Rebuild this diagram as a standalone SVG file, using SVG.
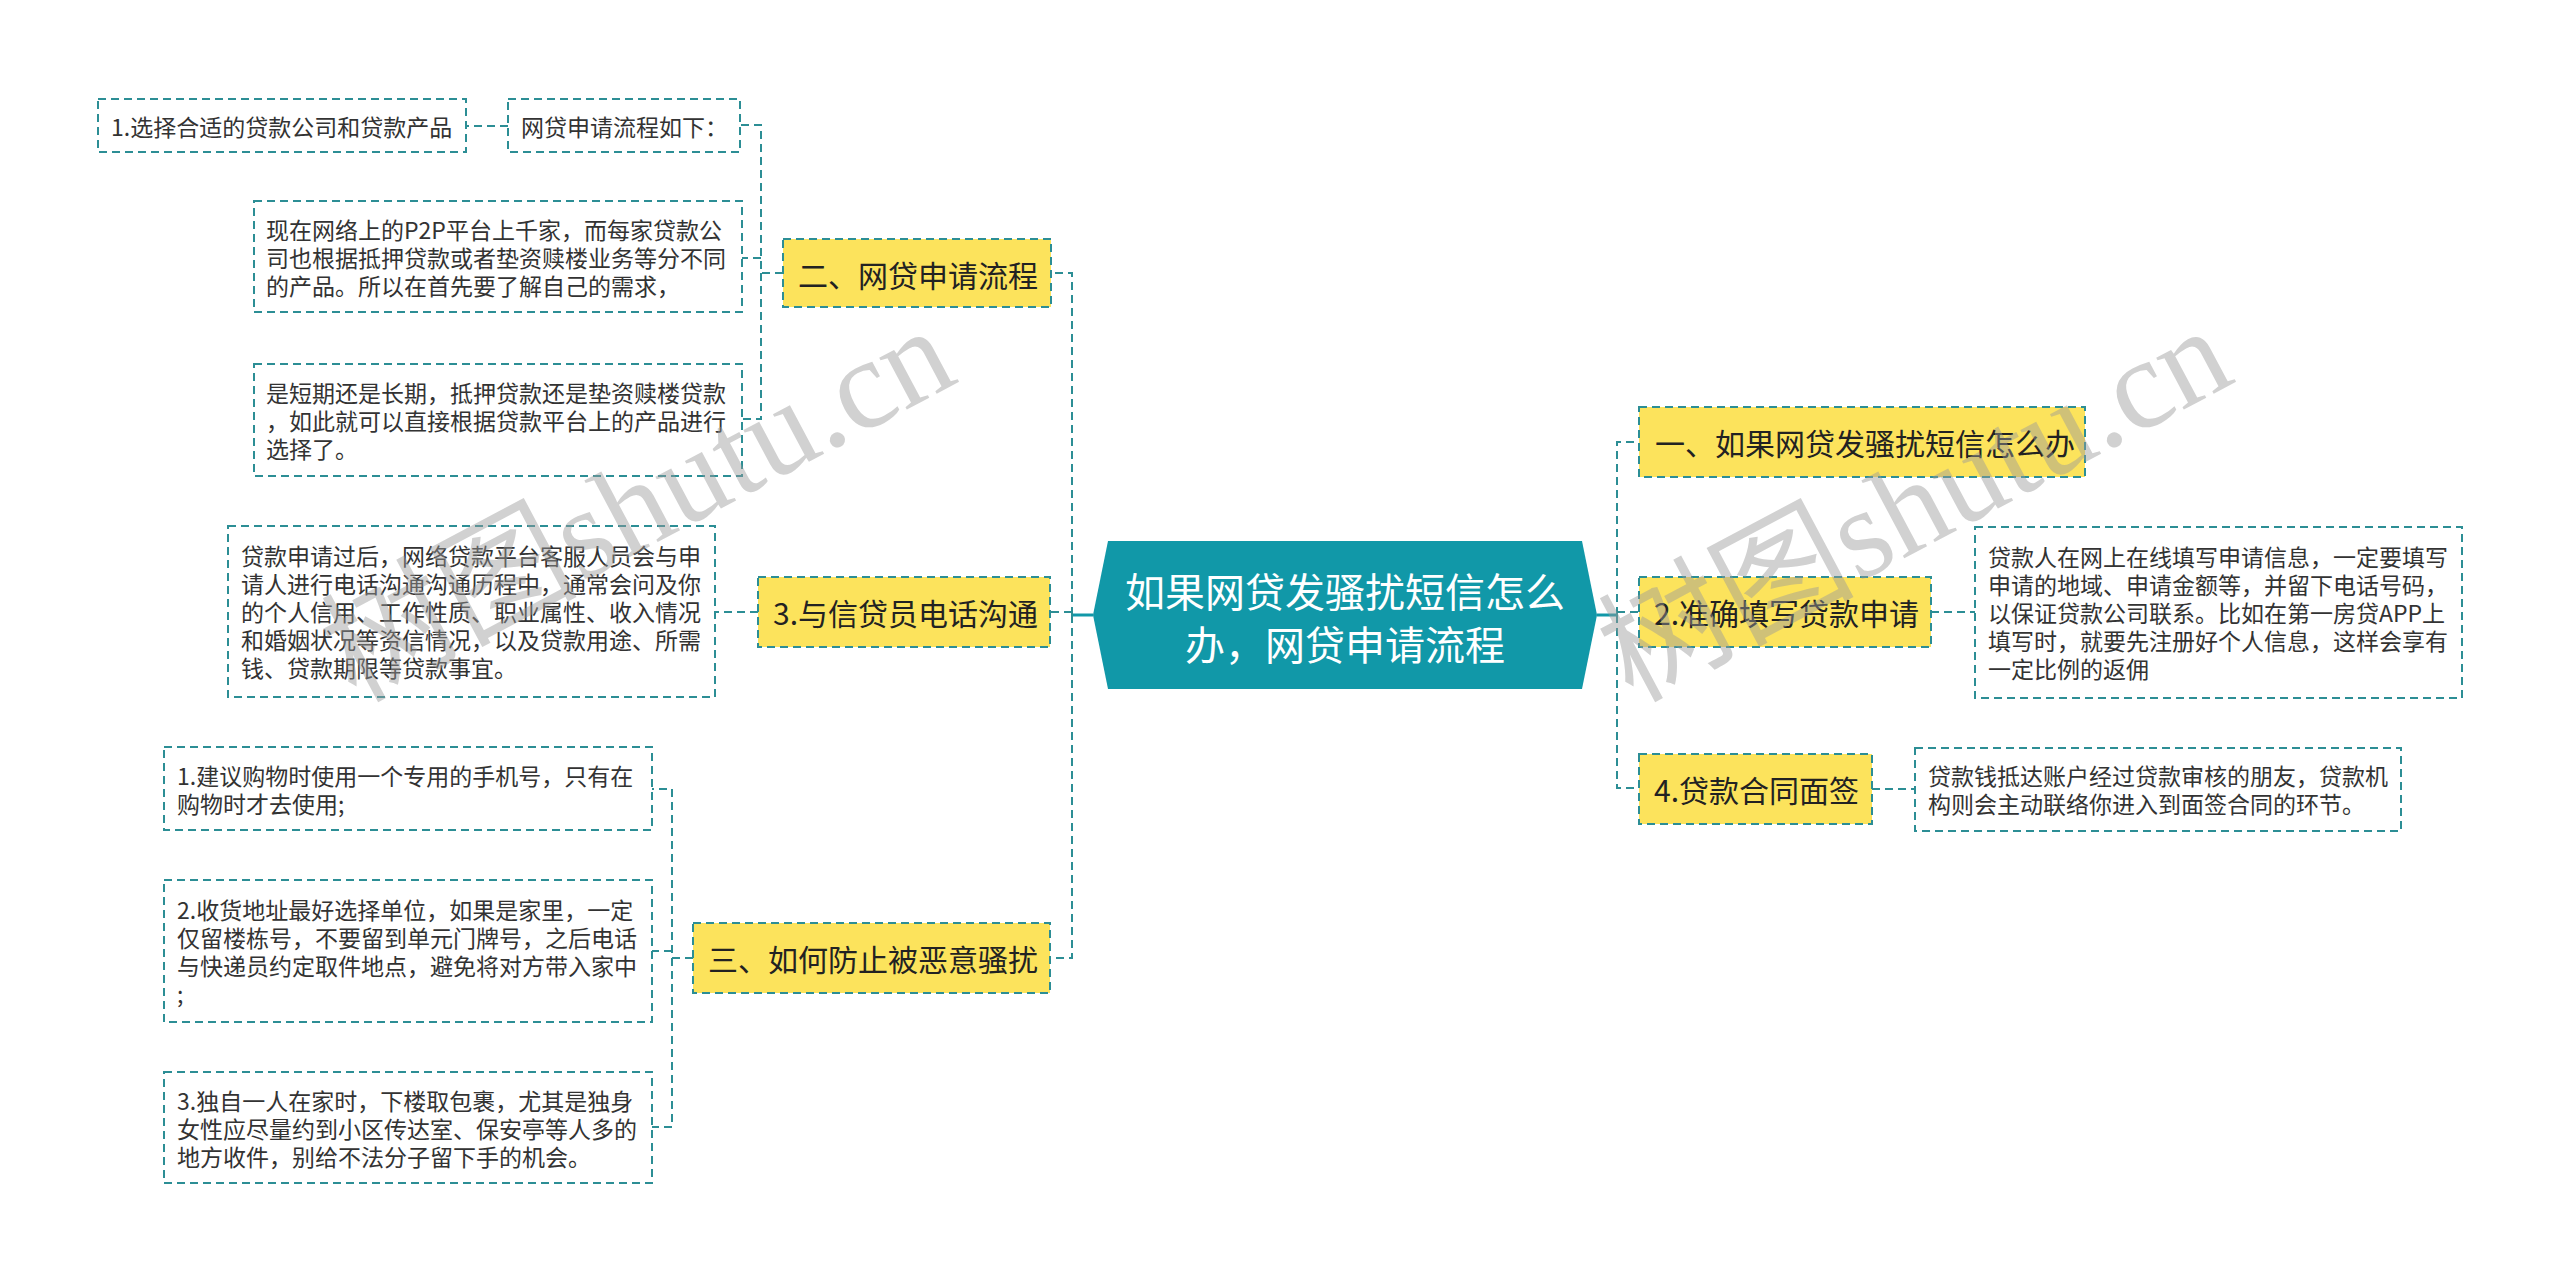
<svg xmlns="http://www.w3.org/2000/svg" width="2560" height="1283" viewBox="0 0 2560 1283">
<style>
  .box{fill:#ffffff;stroke:#2c8e95;stroke-width:2;stroke-dasharray:8 5;}
  .ybox{fill:#fce35c;stroke:#2c8e95;stroke-width:2;stroke-dasharray:8 5;}
  .t{font-family:"Noto Sans CJK SC","Noto Sans",sans-serif;font-size:23px;fill:#333333;dominant-baseline:central;}
  .yt{font-family:"Noto Sans CJK SC","Noto Sans",sans-serif;font-size:30px;fill:#222222;dominant-baseline:central;}
  .ct{font-family:"Noto Sans CJK SC","Noto Sans",sans-serif;font-size:40px;fill:#ffffff;dominant-baseline:central;text-anchor:middle;}
  .c{fill:none;stroke:#2c8e95;stroke-width:2;stroke-dasharray:8 5;}
  .cs{fill:none;stroke:#1198a8;stroke-width:3;}
  .wm{font-family:"Liberation Serif","Noto Sans CJK SC",serif;font-size:128px;fill:#9a9a9a;opacity:0.45;}
</style>
<rect width="2560" height="1283" fill="#ffffff"/>
<g id="connectors">
  <path class="cs" d="M1072,615 H1093"/>
  <path class="cs" d="M1597,615 H1617"/>
  <path class="c" d="M1072,615 V273 H1051"/>
  <path class="c" d="M1072,612 H1050"/>
  <path class="c" d="M1072,615 V958 H1050"/>
  <path class="c" d="M1617,615 V442 H1639"/>
  <path class="c" d="M1617,612 H1639"/>
  <path class="c" d="M1617,615 V788 H1639"/>
  <path class="c" d="M783,273 H761 V125 H740"/>
  <path class="c" d="M761,258 H742"/>
  <path class="c" d="M761,273 V419 H742"/>
  <path class="c" d="M508,126 H466"/>
  <path class="c" d="M758,612 H715"/>
  <path class="c" d="M693,958 H672 V789 H652"/>
  <path class="c" d="M672,951 H652"/>
  <path class="c" d="M672,958 V1127 H652"/>
  <path class="c" d="M1931,612 H1975"/>
  <path class="c" d="M1872,789 H1915"/>
</g>
<g id="root">
  <path d="M1093,615 L1108,541 L1582,541 L1597,615 L1582,689 L1108,689 Z" fill="#1198a8"/>
  <text class="ct" x="1345" y="590">如果网贷发骚扰短信怎么</text>
  <text class="ct" x="1345" y="643">办，网贷申请流程</text>
</g>
<g id="n-er">
  <rect class="ybox" x="783" y="239" width="268" height="68"/>
  <text class="yt" x="798" y="274">二、网贷申请流程</text>
</g>
<g id="n-liucheng">
  <rect class="box" x="508" y="99" width="232" height="53"/>
  <text class="t" x="521" y="126">网贷申请流程如下：</text>
</g>
<g id="n-xuanze">
  <rect class="box" x="98" y="99" width="368" height="53"/>
  <text class="t" x="111" y="126">1.选择合适的贷款公司和贷款产品</text>
</g>
<g id="n-xianzai">
  <rect class="box" x="254" y="201" width="488" height="111"/>
  <text class="t" x="266" y="229">现在网络上的P2P平台上千家，而每家贷款公</text>
  <text class="t" x="266" y="257">司也根据抵押贷款或者垫资赎楼业务等分不同</text>
  <text class="t" x="266" y="285">的产品。所以在首先要了解自己的需求，</text>
</g>
<g id="n-duanqi">
  <rect class="box" x="254" y="364" width="488" height="112"/>
  <text class="t" x="266" y="392">是短期还是长期，抵押贷款还是垫资赎楼贷款</text>
  <text class="t" x="266" y="420">，如此就可以直接根据贷款平台上的产品进行</text>
  <text class="t" x="266" y="448">选择了。</text>
</g>
<g id="n-3">
  <rect class="ybox" x="758" y="577" width="292" height="70"/>
  <text class="yt" x="773" y="612">3.与信贷员电话沟通</text>
</g>
<g id="n-3-detail">
  <rect class="box" x="228" y="526" width="487" height="171"/>
  <text class="t" x="241" y="555">贷款申请过后，网络贷款平台客服人员会与申</text>
  <text class="t" x="241" y="583">请人进行电话沟通沟通历程中，通常会问及你</text>
  <text class="t" x="241" y="611">的个人信用、工作性质、职业属性、收入情况</text>
  <text class="t" x="241" y="639">和婚姻状况等资信情况，以及贷款用途、所需</text>
  <text class="t" x="241" y="667">钱、贷款期限等贷款事宜。</text>
</g>
<g id="n-san">
  <rect class="ybox" x="693" y="923" width="357" height="70"/>
  <text class="yt" x="708" y="958">三、如何防止被恶意骚扰</text>
</g>
<g id="n-san-1">
  <rect class="box" x="164" y="747" width="488" height="83"/>
  <text class="t" x="177" y="775">1.建议购物时使用一个专用的手机号，只有在</text>
  <text class="t" x="177" y="803">购物时才去使用;</text>
</g>
<g id="n-san-2">
  <rect class="box" x="164" y="880" width="488" height="142"/>
  <text class="t" x="177" y="909">2.收货地址最好选择单位，如果是家里，一定</text>
  <text class="t" x="177" y="937">仅留楼栋号，不要留到单元门牌号，之后电话</text>
  <text class="t" x="177" y="965">与快递员约定取件地点，避免将对方带入家中</text>
  <text class="t" x="177" y="993">;</text>
</g>
<g id="n-san-3">
  <rect class="box" x="164" y="1072" width="488" height="111"/>
  <text class="t" x="177" y="1100">3.独自一人在家时，下楼取包裹，尤其是独身</text>
  <text class="t" x="177" y="1128">女性应尽量约到小区传达室、保安亭等人多的</text>
  <text class="t" x="177" y="1156">地方收件，别给不法分子留下手的机会。</text>
</g>
<g id="n-yi">
  <rect class="ybox" x="1639" y="407" width="446" height="70"/>
  <text class="yt" x="1655" y="442">一、如果网贷发骚扰短信怎么办</text>
</g>
<g id="n-2">
  <rect class="ybox" x="1639" y="577" width="292" height="70"/>
  <text class="yt" x="1654" y="612">2.准确填写贷款申请</text>
</g>
<g id="n-2-detail">
  <rect class="box" x="1975" y="527" width="487" height="171"/>
  <text class="t" x="1988" y="556">贷款人在网上在线填写申请信息，一定要填写</text>
  <text class="t" x="1988" y="584">申请的地域、申请金额等，并留下电话号码，</text>
  <text class="t" x="1988" y="612">以保证贷款公司联系。比如在第一房贷APP上</text>
  <text class="t" x="1988" y="640">填写时，就要先注册好个人信息，这样会享有</text>
  <text class="t" x="1988" y="668">一定比例的返佣</text>
</g>
<g id="n-4">
  <rect class="ybox" x="1639" y="754" width="233" height="70"/>
  <text class="yt" x="1654" y="789">4.贷款合同面签</text>
</g>
<g id="n-4-detail">
  <rect class="box" x="1915" y="748" width="486" height="83"/>
  <text class="t" x="1928" y="775">贷款钱抵达账户经过贷款审核的朋友，贷款机</text>
  <text class="t" x="1928" y="803">构则会主动联络你进入到面签合同的环节。</text>
</g>
<g id="watermark">
  <text class="wm" transform="translate(355,703) rotate(-28)">树图shutu.cn</text>
  <text class="wm" transform="translate(1632,703) rotate(-28)">树图shutu.cn</text>
</g>
</svg>
